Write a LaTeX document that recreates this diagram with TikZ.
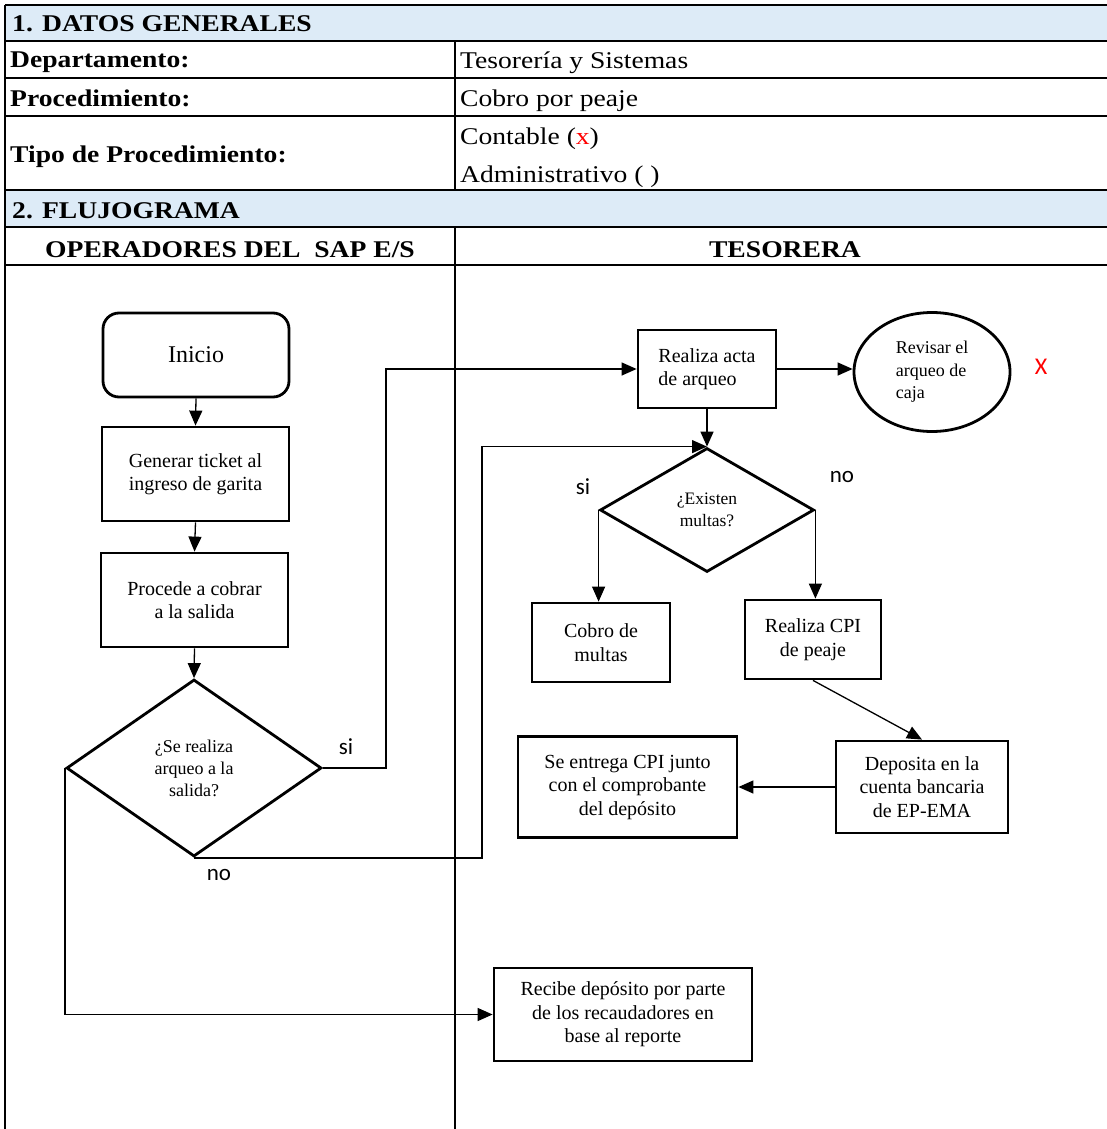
\documentclass[tikz,border=0pt]{standalone}
\usepackage{fontspec}
\setmainfont{Liberation Serif}
\newfontfamily\tabfont[FakeStretch=1.15]{Liberation Serif}
\newfontfamily\lblfont{Carlito}
\usetikzlibrary{shapes.geometric,arrows.meta}
\definecolor{headblue}{HTML}{DDEBF7}
\definecolor{markred}{HTML}{FF0000}

\begin{document}
\begin{tikzpicture}[x=1pt,y=-1pt,
  rule/.style={line width=1.9pt},
  tabtxt/.style={anchor=base west,inner sep=0pt,font=\tabfont\fontsize{24}{28}\selectfont},
  box/.style={draw,line width=2.8pt,inner sep=0pt,align=center,font=\fontsize{20}{23.5}\selectfont},
  startbox/.style={box,rounded corners=16pt,font=\fontsize{24}{28}\selectfont},
  decision/.style={draw,diamond,line width=2.8pt,inner sep=0pt,align=center},
  conn/.style={line width=1.3pt,-{Triangle[length=15pt,width=13pt]}},
  lbl/.style={inner sep=0pt,font=\lblfont\fontsize{23}{26}\selectfont}
]
\useasboundingbox (0,0) rectangle (1107,1129);

% ---- header bands ----
\fill[headblue] (5,5) rectangle (1107,41);
\fill[headblue] (5,190) rectangle (1107,227);

% ---- table rules ----
\foreach \yy in {5,41,78,116,190,227,265}
  \draw[rule] (5,\yy) -- (1107,\yy);
\draw[rule] (5,5) -- (5,1129);
\draw[rule] (455,41) -- (455,190);
\draw[rule] (455,227) -- (455,1129);

% ---- table texts ----
\node[tabtxt] (t1) at (12,32) {\bfseries 1. DATOS GENERALES};
\node[tabtxt] (dptoL) at (10,68) {\bfseries Departamento:};
\node[tabtxt] (dptoR) at (460,69) {Tesorería y Sistemas};
\node[tabtxt] (procL) at (10,107) {\bfseries Procedimiento:};
\node[tabtxt] (procR) at (460,107) {Cobro por peaje};
\node[tabtxt] (tipoL) at (10,162) {\bfseries Tipo de Procedimiento:};
\node[tabtxt] (tipoA) at (460,145) {Contable ({\color{markred}x})};
\node[tabtxt] (tipoB) at (460,182) {Administrativo ( )};
\node[tabtxt] (t2) at (12,218) {\bfseries 2. FLUJOGRAMA};
\node[tabtxt,anchor=base] (laneA) at (230,257) {\bfseries OPERADORES DEL\ \ SAP E/S};
\node[tabtxt,anchor=base] (laneB) at (785,257) {\bfseries TESORERA};

% ---- flowchart: operators lane ----
\node[startbox,minimum width=186pt,minimum height=84pt] (inicio) at (196,355) {Inicio};
\node[box,align=left,minimum width=187pt,minimum height=94pt] (gen) at (195.5,474) {Generar ticket al\\ingreso de garita};
\node[box,minimum width=187pt,minimum height=94pt] (cobrar) at (194.5,600) {Procede a cobrar\\a la salida};
\node[decision,minimum width=255pt,minimum height=177pt,font=\fontsize{18}{22}\selectfont] (dec1) at (194,768) {¿Se realiza\\arqueo a la\\salida?};

% ---- flowchart: treasurer lane ----
\node[box,align=left,minimum width=138pt,minimum height=78pt] (acta) at (707,369) {Realiza acta\\de arqueo};
\node[draw,ellipse,line width=2.8pt,inner sep=0pt,align=left,minimum width=156pt,minimum height=119pt,font=\fontsize{18}{22.5}\selectfont] (rev) at (932,372) {Revisar el\\arqueo de\\caja};
\node[decision,minimum width=214pt,minimum height=124pt,font=\fontsize{17.5}{22}\selectfont] (dec2) at (707,510) {¿Existen\\multas?};
\node[box,minimum width=138pt,minimum height=79pt] (multas) at (601,642.5) {Cobro de\\multas};
\node[box,minimum width=136pt,minimum height=79pt] (cpi) at (813,639.5) {Realiza CPI\\de peaje};
\node[box,minimum width=172pt,minimum height=92pt] (dep) at (922,787) {Deposita en la\\cuenta bancaria\\de EP-EMA};
\node[box,minimum width=219pt,minimum height=101pt] (ent) at (627.5,787) {Se entrega CPI junto\\con el comprobante\\del depósito};
\node[box,minimum width=258pt,minimum height=93pt] (rec) at (623,1014.5) {Recibe depósito por parte\\de los recaudadores en\\base al reporte};

% ---- labels ----
\node[lbl] (si1) at (346,747) {si};
\node[lbl] (no1) at (219,875) {no};
\node[lbl] (si2) at (583,487) {si};
\node[lbl] (no2) at (842,477) {no};
\node[inner sep=0pt,font=\lblfont\fontsize{24}{28}\selectfont,text=markred] (mark) at (1041,367) {X};

% ---- turning points (x positions of the return lines) ----
\coordinate (siTurn) at (386,0);
\coordinate (noTurn) at (482,0);

% ---- connectors ----
\draw[conn] (inicio.south) -- (gen.north);
\draw[conn] (gen.south) -- (cobrar.north);
\draw[conn] (cobrar.south) -- (dec1.north);
\draw[conn] (dec1.east) -| (siTurn |- acta.west) -- (acta.west);
\draw[conn] (dec1.south) -| (noTurn |- dec2.north) -- (dec2.north);
\draw[conn] (dec1.west) |- (rec.west);
\draw[conn] (acta.east) -- (acta.east -| rev.west);
\draw[conn] (acta.south) -- (dec2.north);
\draw[conn] (dec2.west) -- (dec2.west |- multas.north);
\draw[conn] (dec2.east) -- (dec2.east |- cpi.north);
\draw[conn] (cpi.south) -- (dep.north);
\draw[conn] (dep.west) -- (ent.east);
\end{tikzpicture}
\end{document}
